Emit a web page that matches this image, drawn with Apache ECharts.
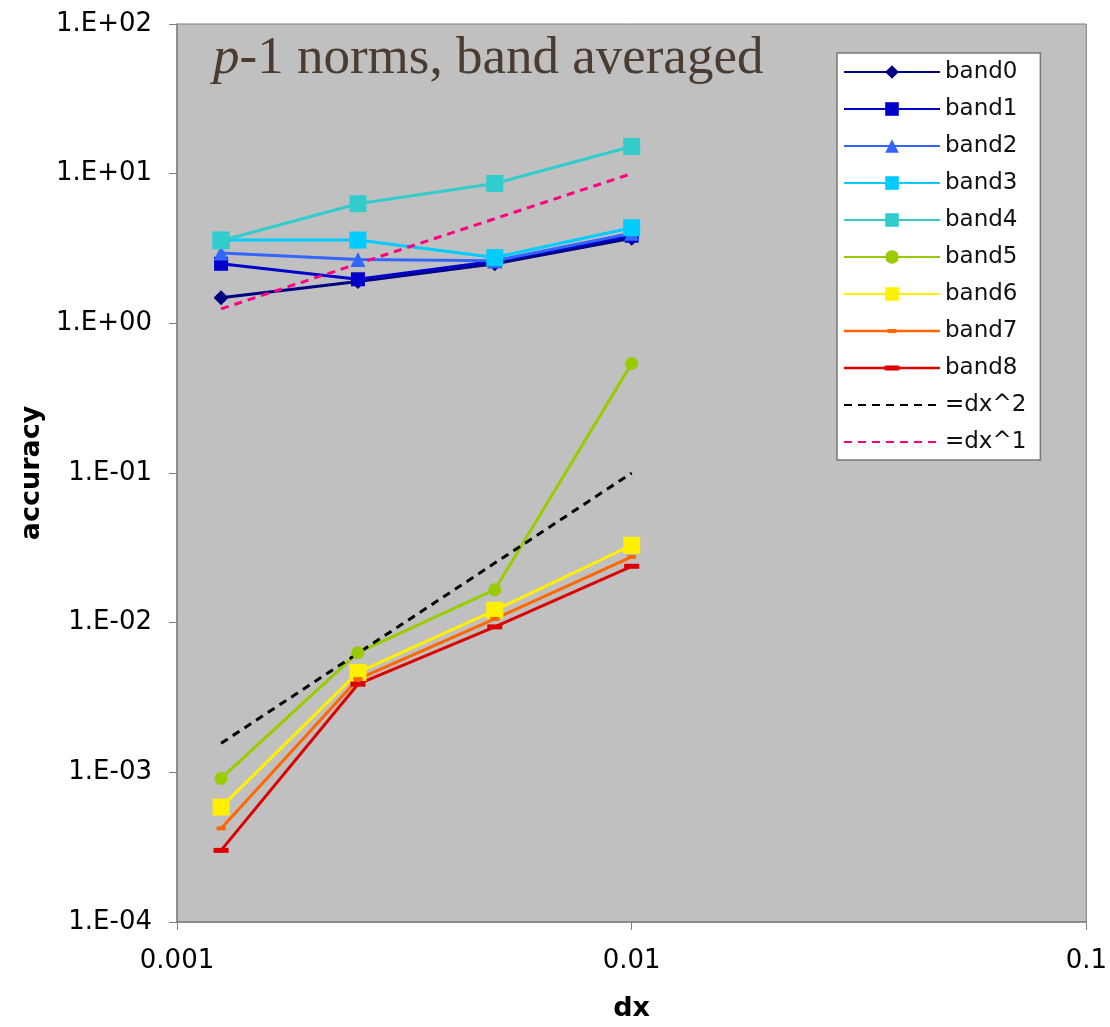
<!DOCTYPE html>
<html>
<head>
<meta charset="utf-8">
<script src="https://cdn.jsdelivr.net/npm/echarts@6/dist/echarts.min.js"></script>
<style>
  html, body { margin: 0; padding: 0; background: #fff; overflow: hidden; }
  #chart { width: 1110px; height: 1027px; }
</style>
</head>
<body>
<div id="chart"></div>
<script>
// grid spacing values (x)
const dx = [0.00125, 0.0025, 0.005, 0.01]

// band accuracy values
const band0 = [1.48, 1.9, 2.5, 3.7]
const band1 = [2.5, 1.97, 2.6, 3.85]
const band2 = [2.95, 2.67, 2.62, 4.0]
const band3 = [3.6, 3.6, 2.75, 4.35]
const band4 = [3.56, 6.3, 8.6, 15.2]
const band5 = [0.00091, 0.0063, 0.0166, 0.54]
const band6 = [0.000586, 0.00465, 0.0121, 0.0329]
const band7 = [0.000422, 0.0042, 0.0106, 0.0275]
const band8 = [0.000301, 0.00388, 0.00937, 0.0238]

// reference slopes
const dxSq = [0.0015625, 0.00625, 0.025, 0.1]
const dxLin = [1.25, 2.5, 5, 10]

const xTicks = ['0.001', '0.01', '0.1']

function pairs(ys) {
  return dx.map((x, i) => [x, ys[i]])
}

function band(name, ys, color, symbol, size) {
  return {
    name: name,
    type: 'line',
    data: pairs(ys),
    symbol: symbol,
    symbolSize: size,
    showAllSymbol: true,
    itemStyle: { color: color },
    lineStyle: { color: color, width: 3 },
    emphasis: { disabled: true }
  }
}

function refLine(name, ys, color) {
  return {
    name: name,
    type: 'line',
    data: pairs(ys),
    symbol: 'none',
    itemStyle: { color: color },
    lineStyle: { color: color, width: 3, type: [8, 6] },
    emphasis: { disabled: true }
  }
}

// legend icons for the dash-marker bands: line with a small bar in the middle
const dashIcon7 = 'path://M0,0.75L43.5,0.75L43.5,0L52.5,0L52.5,0.75L96,0.75L96,3.25L52.5,3.25L52.5,4L43.5,4L43.5,3.25L0,3.25Z'
const dashIcon8 = 'path://M0,1.25L40.5,1.25L40.5,0L55.5,0L55.5,1.25L96,1.25L96,3.75L55.5,3.75L55.5,5L40.5,5L40.5,3.75L0,3.75Z'

const chart = echarts.init(document.getElementById('chart'), null, { width: 1110, height: 1027 })

const option = {
  animation: false,
  backgroundColor: '#fff',
  title: {
    left: 208,
    top: 28,
    text: '{i|p}{n|-1 norms, band averaged}',
    textStyle: {
      rich: {
        i: { fontFamily: 'Liberation Serif', fontStyle: 'italic', fontWeight: 'normal', fontSize: 53, color: '#4a3c30' },
        n: { fontFamily: 'Liberation Serif', fontWeight: 'normal', fontSize: 53, color: '#4a3c30' }
      }
    }
  },
  legend: {
    orient: 'vertical',
    left: 837,
    top: 53,
    backgroundColor: '#fff',
    borderColor: '#777',
    borderWidth: 1.5,
    padding: [6, 14, 5, 6],
    itemWidth: 96,
    itemHeight: 17,
    itemGap: 11,
    symbolKeepAspect: true,
    textStyle: { fontFamily: 'DejaVu Sans', fontSize: 23, color: '#111', lineHeight: 26 },
    data: [
      'band0', 'band1', 'band2', 'band3', 'band4', 'band5', 'band6',
      { name: 'band7', icon: dashIcon7 },
      { name: 'band8', icon: dashIcon8 },
      { name: '=dx^2', itemStyle: { opacity: 0 } },
      { name: '=dx^1', itemStyle: { opacity: 0 } }
    ]
  },
  grid: {
    left: 177,
    top: 24,
    width: 912,
    height: 906,
    show: true,
    backgroundColor: '#c0c0c0',
    borderColor: '#808080',
    borderWidth: 1
  },
  xAxis: {
    type: 'log',
    logBase: 10,
    min: 0.001,
    max: 0.1,
    name: 'dx',
    nameLocation: 'middle',
    nameGap: 73,
    nameTextStyle: { fontFamily: 'DejaVu Sans', fontWeight: 'bold', fontSize: 27, color: '#000' },
    axisLine: { lineStyle: { color: '#808080', width: 1.5 } },
    axisTick: { show: true, inside: false, length: 8, lineStyle: { color: '#808080' } },
    minorTick: { show: false },
    splitLine: { show: false },
    axisLabel: {
      margin: 26,
      fontFamily: 'DejaVu Sans',
      fontSize: 26,
      color: '#000',
      formatter: function (v) {
        const e = Math.round(Math.log10(v))
        return xTicks[e + 3]
      }
    }
  },
  yAxis: {
    type: 'log',
    logBase: 10,
    min: 0.0001,
    max: 100,
    splitNumber: 6,
    name: 'accuracy',
    nameLocation: 'middle',
    nameRotate: 90,
    nameGap: 132,
    nameTextStyle: { fontFamily: 'DejaVu Sans', fontWeight: 'bold', fontSize: 27, color: '#000' },
    axisLine: { show: true, lineStyle: { color: '#808080', width: 1.5 } },
    axisTick: { show: true, inside: false, length: 8, lineStyle: { color: '#808080' } },
    minorTick: { show: false },
    splitLine: { show: false },
    axisLabel: {
      margin: 25,
      fontFamily: 'DejaVu Sans',
      fontSize: 26,
      color: '#000',
      formatter: function (v) {
        const e = Math.round(Math.log10(v))
        const s = e < 0 ? '-' : '+'
        const a = Math.abs(e)
        return '1.E' + s + (a < 10 ? '0' + a : a)
      }
    }
  },
  series: [
    band('band0', band0, '#000080', 'diamond', 15),
    band('band1', band1, '#0000cc', 'rect', 14),
    band('band2', band2, '#3366ff', 'triangle', 15),
    band('band3', band3, '#00ccff', 'rect', 17),
    band('band4', band4, '#33cccc', 'rect', 17),
    band('band5', band5, '#99cc00', 'circle', 13),
    band('band6', band6, '#fff000', 'rect', 17),
    band('band7', band7, '#ff6600', 'rect', [9, 4]),
    band('band8', band8, '#dd0000', 'rect', [15, 5]),
    refLine('=dx^2', dxSq, '#000000'),
    refLine('=dx^1', dxLin, '#ff0080')
  ]
}

chart.setOption(option)
</script>
</body>
</html>
